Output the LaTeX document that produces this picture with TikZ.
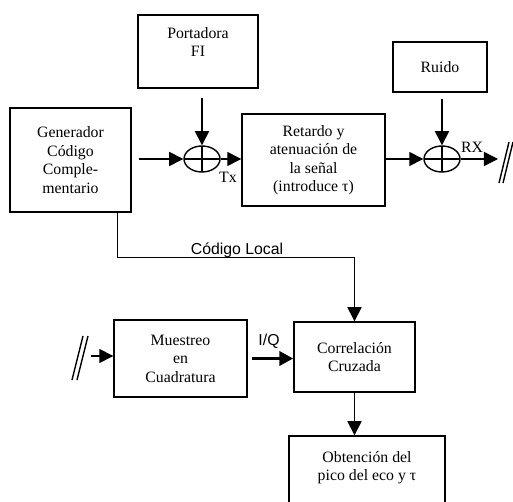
\documentclass[tikz,border=0pt]{standalone}
\usepackage{fontspec}
\setmainfont{Liberation Serif}
\setsansfont{Liberation Sans}
\usetikzlibrary{shapes.geometric,arrows.meta,positioning,calc}

\begin{document}
\begin{tikzpicture}[
            x=0.02cm, y=-0.02cm,
            block/.style={
                    rectangle,
                    draw,
                    line width=0.8pt,
                    inner sep=0pt,
                    align=center,
                    font=\fontsize{9}{10.5}\selectfont
                },
            sumnode/.style={
                    ellipse,
                    draw,
                    line width=0.8pt,
                    minimum width=0.72cm,
                    minimum height=0.52cm,
                    inner sep=0pt,
                    path picture={
                            \draw[line width=0.8pt]
                                (path picture bounding box.north) -- (path picture bounding box.south)
                                (path picture bounding box.west) -- (path picture bounding box.east);
                        }
                },
            arrow/.style={
                    -{Triangle[length=8pt,width=8pt]},
                    line width=0.8pt
                },
            tag/.style={
                    inner sep=0pt,
                    font=\fontsize{9}{10.5}\selectfont
                }
        ]
        \useasboundingbox (0,0) rectangle (513,502);

        % Emisor
        \node[block, minimum width=2.4cm, minimum height=1.46cm] (port) at (198,51.5) {Portadora\\FI\\ \mbox{}};
        \node[block, minimum width=2.42cm, minimum height=2.08cm] (gen) at (70.5,160) {Generador\\Código\\Comple-\\mentario};
        \node[sumnode] (sumA) at (202,159) {};
        \node[block, minimum width=2.86cm, minimum height=1.84cm] (ret) at (313.5,160) {Retardo y\\atenuación de\\la señal\\(introduce τ)};
        \node[block, minimum width=1.88cm, minimum height=1.0cm] (ruido) at (440,67) {Ruido};
        \node[sumnode] (sumB) at (442,159) {};
        \coordinate (rxend) at (498,159);

        % Receptor
        \coordinate (iqin) at (91,356);
        \node[block, minimum width=2.66cm, minimum height=1.54cm] (mues) at (180.5,358.5) {Muestreo\\en\\Cuadratura};
        \node[block, minimum width=2.42cm, minimum height=1.4cm] (corr) at (354.5,357) {Correlación\\Cruzada};
        \node[block, minimum width=3.12cm, minimum height=1.56cm] (obt) at (367,475) {Obtención del\\pico del eco y τ\\ \mbox{}};

        % Etiquetas
        \node[tag] (tx) at (228,177) {Tx};
        \node[tag] (rx) at (472,147) {RX};
        \node[tag, font=\sffamily\fontsize{9}{10.5}\selectfont] (iq) at (269,341) {I/Q};
        \node[tag, font=\sffamily\fontsize{9}{10.5}\selectfont] (codlocal) at (237,250) {Código Local};

        % Flujo de emision
        \draw[arrow, shorten <=0.18cm] (sumA |- port.south) -- (sumA.north);
        \draw[arrow, shorten <=0.14cm] (gen.east |- sumA.west) -- (sumA.west);
        \draw[arrow] (sumA.east) -- (sumA.east -| ret.west);
        \draw[arrow] (ret.east |- sumB.west) -- (sumB.west);
        \draw[arrow, shorten <=0.12cm] (sumB |- ruido.south) -- (sumB.north);
        \draw[arrow] (sumB.east) -- (rxend);

        % Codigo local
        \draw[arrow] ([xshift=-0.28cm]gen.south east) -- ++(0,45) -| (corr.north);

        % Flujo de recepcion
        \draw[arrow] (iqin) -- (iqin -| mues.west);
        \draw[-{Triangle[length=8pt,width=8pt]}, line width=2.2pt, shorten <=0.08cm] (mues.east) -- (mues.east -| corr.west);
        \draw[arrow] (corr.south) -- (corr.south |- obt.north);

        % Cortes de linea
        \draw[line width=0.8pt] (499,183) -- (509,142) (503,183) -- (513,142);
        \draw[line width=0.8pt] (72,380) -- (83,336) (77,380) -- (88,336);

    \end{tikzpicture}
\end{document}
